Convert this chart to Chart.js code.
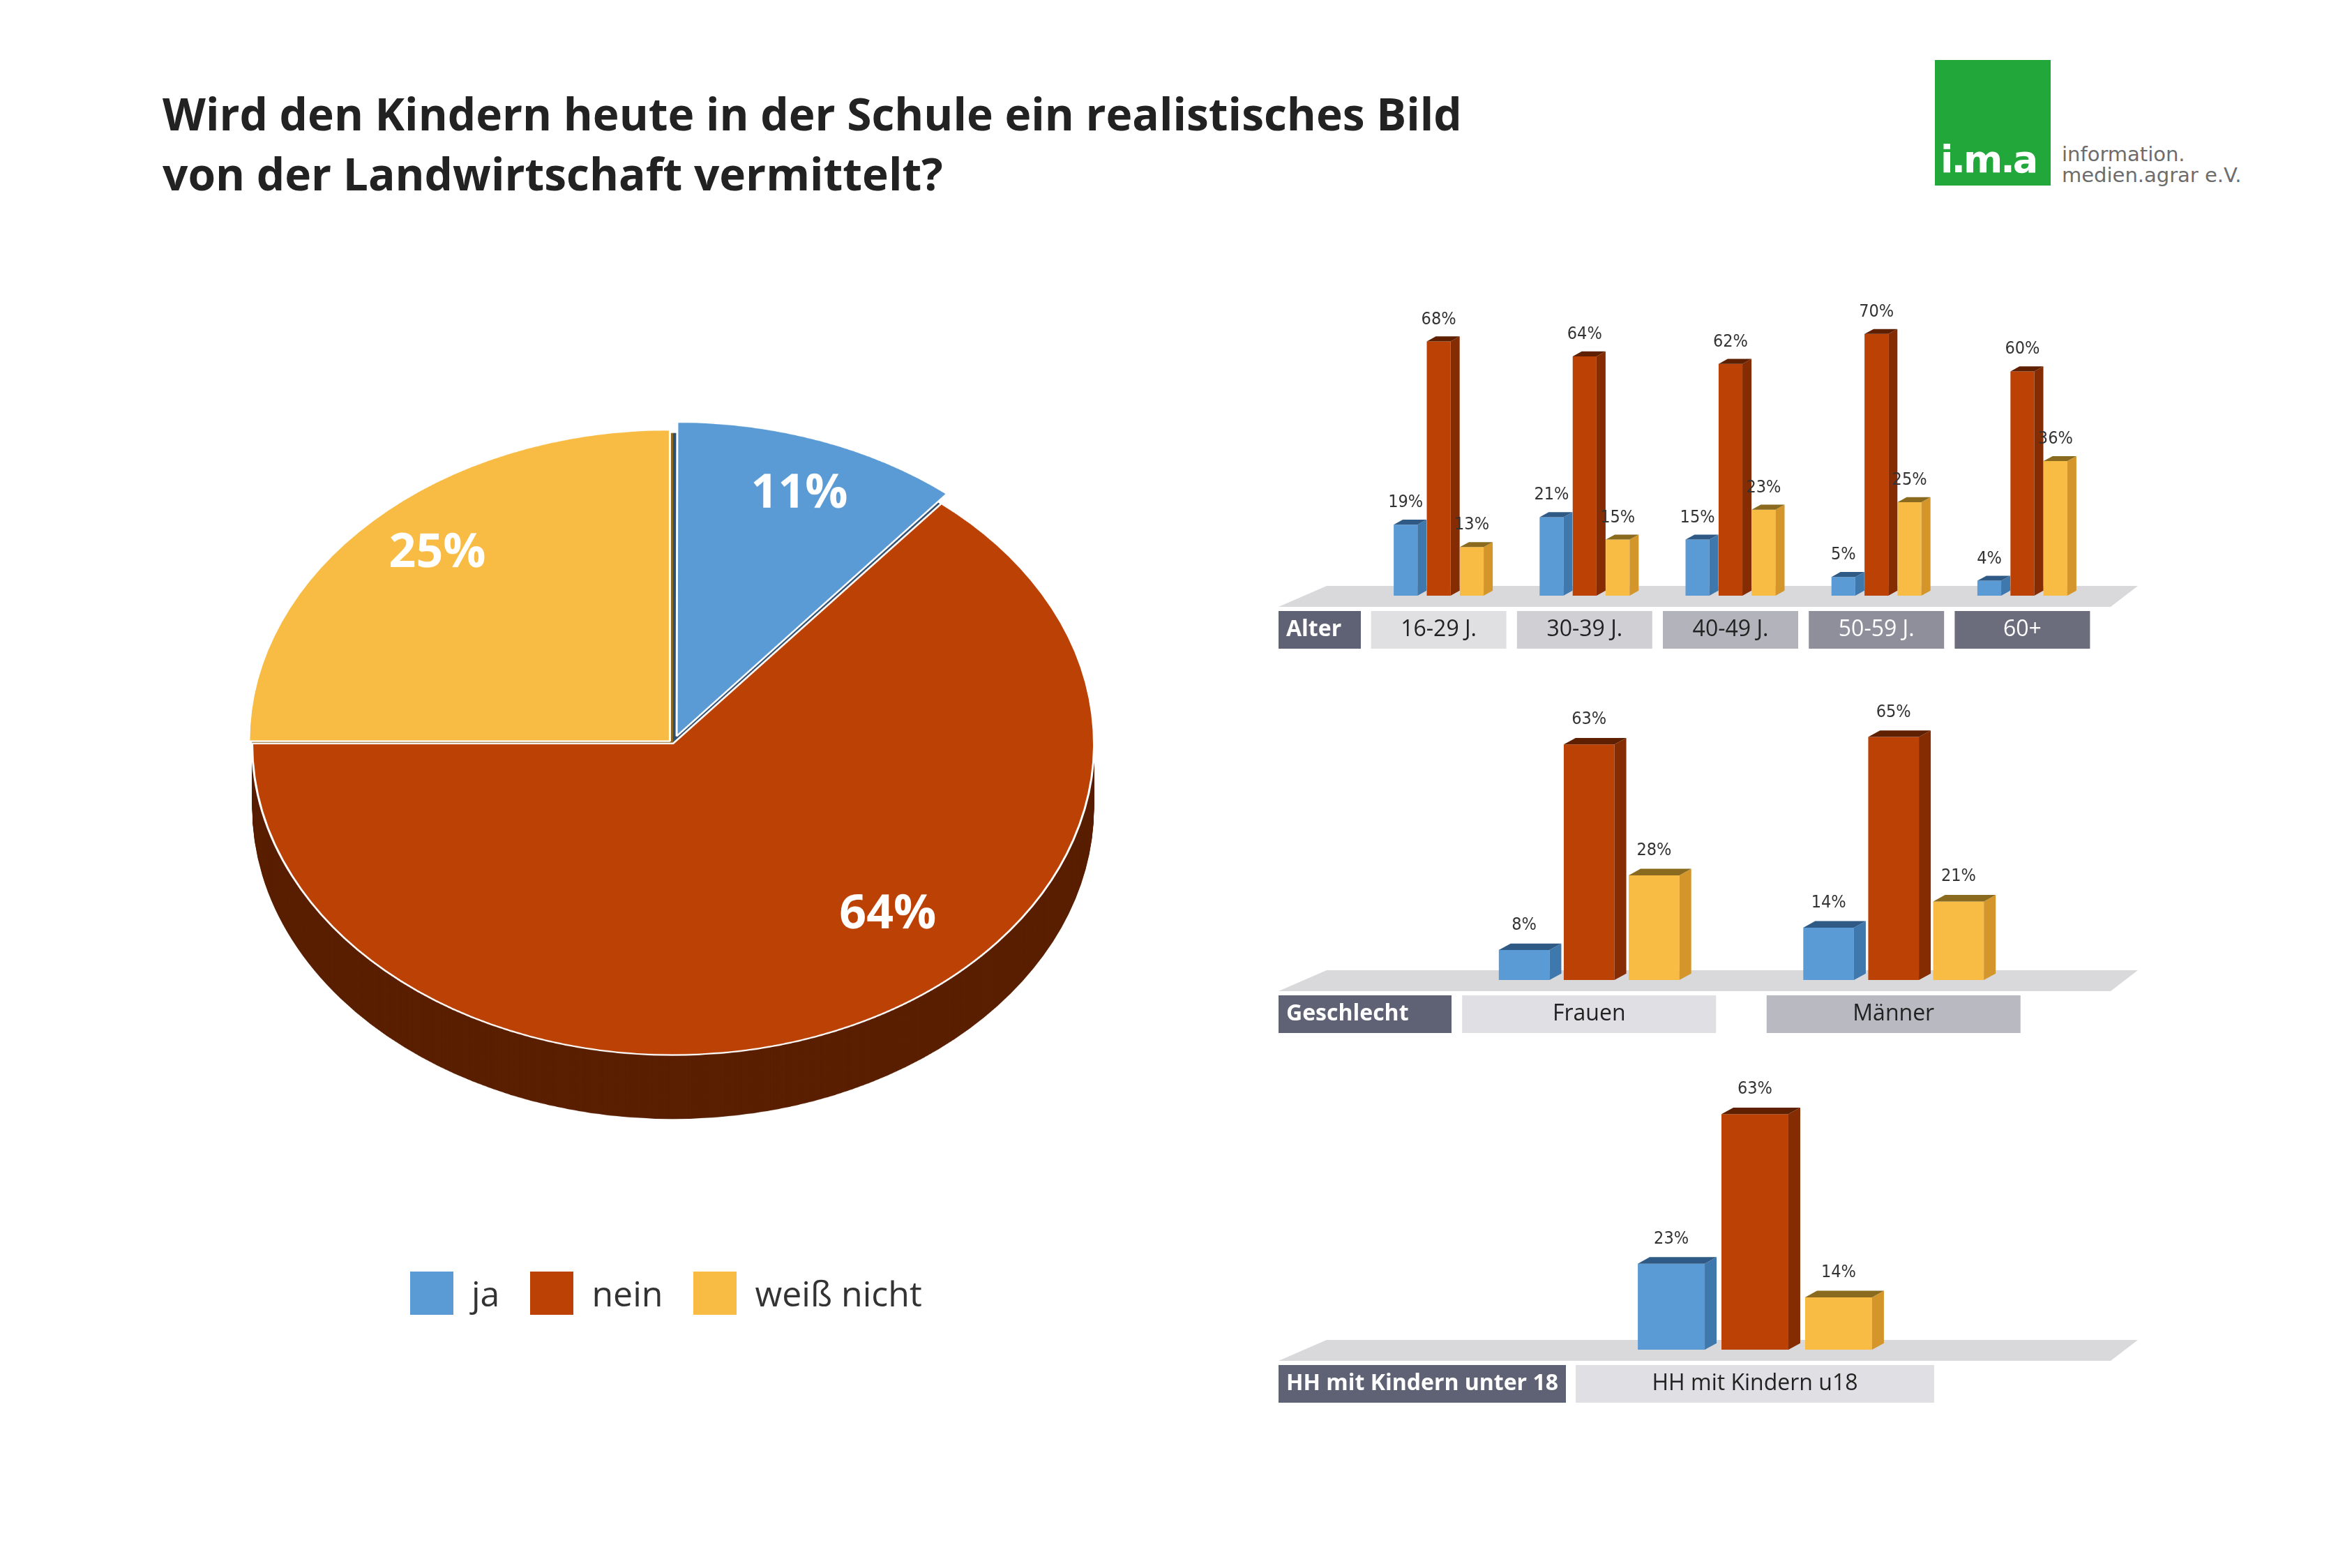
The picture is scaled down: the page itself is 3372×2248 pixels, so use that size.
<!DOCTYPE html>
<html>
<head>
<meta charset="utf-8">
<script src="https://cdn.jsdelivr.net/npm/chart.js@4.4.1/dist/chart.umd.min.js"></script>
<style>
  body { margin: 0; width: 3372px; height: 2248px; background: #fff; position: relative; overflow: hidden; font-family: "Open Sans", sans-serif; }
  #title { position: absolute; left: 233px; top: 120px; font-size: 64px; font-weight: bold; color: #222; line-height: 86px; }
  #logo { position: absolute; left: 2774px; top: 86px; width: 166px; height: 180px; background: #22a83a; }
  #logo span { position: absolute; left: 8px; bottom: 6px; color: #fff; font: bold 54px "DejaVu Sans", sans-serif; letter-spacing: -3px; }
  #logotext { position: absolute; left: 2956px; top: 206px; color: #6d6d6d; font: 29px "DejaVu Sans", sans-serif; line-height: 30px; }
  #pieWrap { position: absolute; left: 330px; top: 596px; width: 1270px; height: 1420px; transform: scaleY(0.74); transform-origin: top left; }
  #legend { position: absolute; left: 588px; top: 1820px; font-size: 50px; color: #333; display: flex; gap: 44px; }
  #legend div { display: flex; align-items: center; }
  #legend i { display: inline-block; width: 62px; height: 62px; margin-right: 26px; }
  .panel { position: absolute; left: 1820px; width: 1260px; }
</style>
</head>
<body>
<div id="title">Wird den Kindern heute in der Schule ein realistisches Bild<br>von der Landwirtschaft vermittelt?</div>
<div id="logo"><span>i.m.a</span></div>
<div id="logotext">information.<br>medien.agrar e.V.</div>
<div id="pieWrap"><canvas id="pie" width="1270" height="1420"></canvas></div>
<div id="legend">
  <div><i style="background:#5b9bd5"></i>ja</div>
  <div><i style="background:#bc4105"></i>nein</div>
  <div><i style="background:#f8bb43"></i>weiß nicht</div>
</div>
<div class="panel" style="top:411px;height:540px"><canvas id="c1" width="1260" height="540"></canvas></div>
<div class="panel" style="top:983px;height:519px"><canvas id="c2" width="1260" height="519"></canvas></div>
<div class="panel" style="top:1513px;height:519px"><canvas id="c3" width="1260" height="519"></canvas></div>
<script>
const seriesNames = ['ja', 'nein', 'weiß nicht'];
const totalValues = [11, 64, 25];

const alterCats = ['16-29 J.', '30-39 J.', '40-49 J.', '50-59 J.', '60+'];
const alterJa = [19, 21, 15, 5, 4];
const alterNein = [68, 64, 62, 70, 60];
const alterWeiss = [13, 15, 23, 25, 36];

const geschlechtCats = ['Frauen', 'Männer'];
const geschlechtJa = [8, 14];
const geschlechtNein = [63, 65];
const geschlechtWeiss = [28, 21];

const hhCats = ['HH mit Kindern u18'];
const hhJa = [23];
const hhNein = [63];
const hhWeiss = [14];

const front = ['#5b9bd5', '#bc4105', '#f8bb43'];
const side = ['#3f78ad', '#852c02', '#d4962a'];
const topc = ['#2f5a85', '#5e2000', '#8a6a1e'];
const depthc = ['#2f4f6f', '#5a1f00', '#8a661f'];
const labelPos = [[0.30, -0.80], [0.51, 0.55], [-0.56, -0.61]];

const SCALE = 5.36; // px per percent

// pie with fake depth
const pieDepth = {
  id: 'pieDepth',
  beforeDatasetsDraw(chart) {
    const ctx = chart.ctx;
    const arcs = chart.getDatasetMeta(0).data;
    for (let d = 124; d > 0; d -= 2) {
      arcs.forEach((a, i) => {
        ctx.beginPath();
        ctx.moveTo(a.x, a.y + d);
        ctx.arc(a.x, a.y + d, a.outerRadius, a.startAngle, a.endAngle);
        ctx.closePath();
        ctx.fillStyle = depthc[i];
        ctx.fill();
      });
    }
  },
  afterDraw(chart) {
    const ctx = chart.ctx;
    const a0 = chart.getDatasetMeta(0).data[1];
    const cx = (chart.chartArea.left + chart.chartArea.right) / 2;
    const cy = (chart.chartArea.top + chart.chartArea.bottom) / 2;
    const R = a0.outerRadius;
    totalValues.forEach((v, i) => {
      ctx.save();
      ctx.translate(cx + labelPos[i][0] * R, cy + labelPos[i][1] * R);
      ctx.scale(1, 1 / 0.74);
      ctx.fillStyle = '#fff';
      ctx.font = 'bold 68px "Open Sans"';
      ctx.textAlign = 'center';
      ctx.textBaseline = 'middle';
      ctx.fillText(v + '%', 0, 0);
      ctx.restore();
    });
  }
};

new Chart(document.getElementById('pie'), {
  type: 'pie',
  data: {
    labels: seriesNames,
    datasets: [{ data: totalValues, backgroundColor: front, borderColor: '#fff', borderWidth: 3, offset: [60, 0, 26] }]
  },
  options: {
    responsive: false, animation: false,
    layout: { padding: { bottom: 150 } },
    plugins: { legend: { display: false }, tooltip: { enabled: false } }
  },
  plugins: [pieDepth]
});

// 3D bars with floor and label strips
function bar3d(cfg) {
  return {
    id: 'bar3d',
    beforeDatasetsDraw(chart) {
      const ctx = chart.ctx, xs = chart.scales.x, fy = chart.chartArea.bottom;
      ctx.save();
      ctx.fillStyle = '#d9d9dc';
      ctx.beginPath();
      ctx.moveTo(13, fy + 16); ctx.lineTo(82, fy - 14);
      ctx.lineTo(1245, fy - 14); ctx.lineTo(1206, fy + 16);
      ctx.closePath(); ctx.fill();
      const sy = fy + 22, sh = 54;
      ctx.fillStyle = '#5f6274';
      ctx.fillRect(13, sy, cfg.headW, sh);
      ctx.font = 'bold 32px "Open Sans"';
      ctx.textBaseline = 'middle';
      ctx.fillStyle = '#fff';
      ctx.textAlign = 'left';
      ctx.fillText(cfg.header, 24, sy + sh / 2);
      ctx.font = '32px "Open Sans"';
      ctx.textAlign = 'center';
      chart.data.labels.forEach((lab, i) => {
        const cx = xs.getPixelForValue(i);
        ctx.fillStyle = cfg.strip[i];
        ctx.fillRect(cx - cfg.half, sy, cfg.half * 2, sh);
        ctx.fillStyle = cfg.stripText[i];
        ctx.fillText(lab, cx, sy + sh / 2);
      });
      ctx.restore();
    },
    afterDatasetsDraw(chart) {
      const ctx = chart.ctx, d = cfg.depth;
      ctx.save();
      chart.data.datasets.forEach((ds, si) => {
        chart.getDatasetMeta(si).data.forEach((b, i) => {
          const l = b.x - b.width / 2, r = b.x + b.width / 2;
          ctx.fillStyle = side[si];
          ctx.beginPath();
          ctx.moveTo(r, b.y); ctx.lineTo(r + d, b.y - d * 0.55);
          ctx.lineTo(r + d, b.base - d * 0.55); ctx.lineTo(r, b.base);
          ctx.closePath(); ctx.fill();
          ctx.fillStyle = topc[si];
          ctx.beginPath();
          ctx.moveTo(l, b.y); ctx.lineTo(l + d, b.y - d * 0.55);
          ctx.lineTo(r + d, b.y - d * 0.55); ctx.lineTo(r, b.y);
          ctx.closePath(); ctx.fill();
          ctx.fillStyle = '#333';
          ctx.font = '25px "Liberation Sans Narrow", "DejaVu Sans Condensed"';
          ctx.textAlign = 'center';
          ctx.fillText(ds.data[i] + '%', b.x, b.y - d - 12);
        });
      });
      ctx.restore();
    }
  };
}

function panel(id, cats, ja, nein, weiss, cfg) {
  new Chart(document.getElementById(id), {
    type: 'bar',
    data: {
      labels: cats,
      datasets: [ja, nein, weiss].map((v, i) => ({
        label: seriesNames[i], data: v, backgroundColor: front[i],
        categoryPercentage: cfg.cp, barPercentage: cfg.bp
      }))
    },
    options: {
      responsive: false, animation: false,
      layout: { padding: { left: cfg.left, right: cfg.right, top: 0, bottom: cfg.bottom } },
      scales: {
        x: { display: false },
        y: { display: false, min: 0, max: cfg.floor / SCALE }
      },
      plugins: { legend: { display: false }, tooltip: { enabled: false } }
    },
    plugins: [bar3d(cfg)]
  });
}

panel('c1', alterCats, alterJa, alterNein, alterWeiss, {
  left: 138, right: 76, bottom: 97, floor: 443, cp: 0.68, bp: 0.72, depth: 13,
  header: 'Alter', headW: 118, half: 97,
  strip: ['#e0e0e2', '#d0d0d4', '#b3b3bb', '#8e8f9b', '#6b6d7d'],
  stripText: ['#222', '#222', '#222', '#fff', '#fff']
});
panel('c2', geschlechtCats, geschlechtJa, geschlechtNein, geschlechtWeiss, {
  left: 240, right: 147, bottom: 97, floor: 422, cp: 0.64, bp: 0.78, depth: 17,
  header: 'Geschlecht', headW: 248, half: 182,
  strip: ['#e0e0e4', '#b9b9c1'], stripText: ['#222', '#222']
});
panel('c3', hhCats, hhJa, hhNein, hhWeiss, {
  left: 439, right: 307, bottom: 97, floor: 422, cp: 0.7, bp: 0.8, depth: 17,
  header: 'HH mit Kindern unter 18', headW: 412, half: 257,
  strip: ['#e0e0e4'], stripText: ['#222']
});
</script>
</body>
</html>
